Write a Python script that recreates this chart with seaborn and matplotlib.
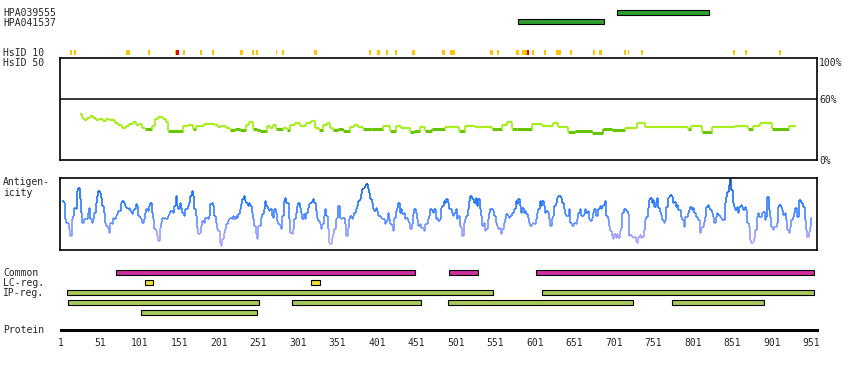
import numpy as np
import matplotlib
matplotlib.use("Agg")
import matplotlib.pyplot as plt
import seaborn as sns
from matplotlib.collections import LineCollection
from matplotlib.colors import LinearSegmentedColormap

sns.set_style("white")
plt.rcParams["font.family"] = ["DejaVu Sans Mono"]
FS = 7

PROTEIN_LEN = 959

# ------------------------------------------------------------------
# data
# ------------------------------------------------------------------
# antibody (HPA) target regions, residues
hpa_names = ["HPA039555", "HPA041537"]
hpa_start = [706, 580]
hpa_end = [822, 689]

# HsID 10 hits (start, end) in residues
hsid_yellow_start = [12, 17, 83, 111, 145, 156, 177, 192, 228, 243, 248, 273, 281, 322, 391, 402,
                     413, 424, 446, 484, 494, 545, 553, 578, 585, 598, 613, 628, 646, 675, 683,
                     715, 719, 736, 852, 868, 911]
hsid_yellow_end = [15, 20, 89, 114, 147, 158, 180, 195, 231, 246, 251, 275, 284, 325, 394, 405,
                   416, 427, 449, 487, 500, 548, 556, 581, 591, 601, 616, 634, 649, 678, 686,
                   717, 721, 739, 855, 870, 914]
hsid_red_start = [147, 591]
hsid_red_end = [151, 594]

# similarity (HsID 50) step line: breakpoints (residue) and % identity
sim_pos = [25, 28, 31, 34, 38, 42, 46, 50, 54, 58, 62, 66, 70, 74, 78, 84, 88, 92, 96, 100,
           104, 108, 116, 120, 124, 130, 134, 137, 156, 162, 169, 172, 183, 196, 200, 204, 210,
           215, 222, 228, 236, 240, 244, 250, 254, 262, 266, 270, 274, 282, 288, 292, 298, 304,
           312, 318, 323, 328, 333, 338, 342, 346, 352, 358, 367, 372, 378, 384, 395, 409, 418,
           426, 432, 443, 449, 456, 462, 471, 488, 505, 513, 526, 547, 560, 566, 572, 579, 598,
           610, 625, 631, 644, 652, 674, 688, 699, 716, 731, 741, 796, 800, 813, 826, 843, 855,
           872, 878, 887, 902, 923]
sim_val = [45, 41, 39, 41, 43, 41, 39, 40, 38, 40, 39, 39, 36, 34, 31, 33, 35, 37, 34, 35,
           31, 30, 33, 40, 42, 40, 37, 28, 33, 34, 30, 33, 35, 34, 32, 33, 31,
           29, 30, 29, 34, 37, 30, 29, 28, 33, 31, 34, 30, 31, 29, 34, 36, 33,
           36, 38, 31, 29, 34, 36, 31, 29, 30, 28, 32, 34, 32, 30, 30, 33, 28,
           33, 31, 27, 28, 32, 28, 30, 32, 28, 33, 32, 30, 34, 37, 30, 30, 35,
           33, 36, 32, 27, 28, 26, 30, 29, 31, 36, 32, 30, 33, 27, 32, 32, 33,
           30, 33, 36, 30, 33]
sim_end = 932

# antigenicity profile, sampled evenly from residue 3 to 952 (height in panel units, 0-216)
antigen_val = [
    147, 142, 92, 82, 82, 62, 42, 92, 102, 127, 122, 177, 187, 152, 112, 82, 92, 92, 92, 112,
    127, 92, 82, 92, 112, 142, 162, 177, 172, 157, 132, 112, 82, 72, 62, 52, 82, 77, 97, 92,
    102, 107, 117, 117, 142, 147, 142, 132, 127, 122, 127, 117, 107, 117, 122, 137, 132, 102, 97, 92,
    82, 92, 112, 122, 117, 132, 142, 112, 92, 62, 57, 42, 27, 67, 82, 97, 92, 97, 92, 102,
    107, 117, 117, 112, 132, 162, 132, 122, 142, 127, 112, 102, 122, 122, 132, 142, 162, 177, 162, 122,
    102, 67, 47, 52, 72, 87, 82, 97, 97, 92, 102, 137, 142, 132, 102, 82, 62, 57, 22, 12,
    32, 52, 62, 77, 87, 92, 97, 92, 102, 92, 102, 97, 107, 122, 137, 152, 162, 147, 142, 132,
    # 250-440 px
    142, 132, 112, 92, 72, 47, 32, 72, 72, 97, 107, 122, 147, 132, 122, 117, 122, 102, 97, 122,
    112, 87, 77, 72, 62, 102, 147, 157, 142, 142, 92, 52, 47, 62, 92, 112, 132, 142, 127, 112,
    92, 107, 92, 112, 127, 137, 142, 147, 152, 142, 117, 97, 87, 77, 62, 77, 102, 122, 102, 62,
    22, 17, 37, 47, 62, 92, 97, 132, 97, 92, 97, 97, 77, 42, 67, 92, 102, 92, 102, 112,
    122, 132, 147, 152, 167, 182, 187, 192, 197, 182, 172, 152, 142, 122, 117, 127, 117, 102, 102, 97,
    92, 92, 77, 87, 112, 92, 77, 72, 57, 97, 117, 127, 142, 112, 122, 107, 112, 92, 97, 87,
    82, 62, 77, 107, 122, 112, 92, 72, 77, 67, 67, 57, 77, 77, 92, 102, 122, 117, 112, 122,
    92, 97, 87,
    # 440-630 px
    92, 127, 132, 147, 142, 152, 142, 122, 122, 112, 102, 112, 122, 92, 102, 72, 67, 42, 82, 92,
    102, 122, 147, 162, 152, 152, 142, 157, 132, 152, 122, 102, 72, 82, 57, 62, 92, 112, 122, 122,
    117, 102, 82, 72, 62, 67, 47, 62, 82, 92, 107, 102, 97, 102, 112, 112, 122, 147, 137, 152,
    132, 112, 127, 112, 117, 107, 97, 82, 72, 77, 82, 77, 92, 112, 122, 147, 132, 147, 132, 112,
    117, 112, 92, 72, 97, 102, 132, 142, 157, 162, 162, 157, 142, 122, 107, 102, 102, 122, 82, 72,
    72, 82, 77, 92, 112, 122, 102, 102, 107, 122, 112, 117, 92, 87, 97, 112, 122, 102, 102, 122,
    132, 122, 132, 137, 147, 102, 92, 72, 57, 42, 32, 47, 37, 47, 37, 57, 67, 112, 122, 122,
    117, 107, 42,
    # 630-812 px
    45, 40, 35, 40, 25, 20, 40, 45, 35, 40, 60, 90, 100, 125, 150, 155, 140, 150, 130, 145,
    155, 125, 115, 105, 90, 80, 90, 130, 155, 160, 165, 160, 140, 145, 130, 135, 120, 120, 100, 90,
    70, 100, 100, 110, 120, 130, 120, 125, 110, 100, 100, 90, 50, 65, 70, 85, 100, 130, 135, 125,
    120, 110, 100, 80, 100, 110, 105, 100, 95, 90, 90, 140, 160, 175, 195, 215, 180, 140, 130, 120,
    130, 110, 130, 135, 130, 120, 130, 120, 80, 70, 30, 20, 25, 35, 60, 100, 110, 100, 100, 110,
    115, 90, 100, 160, 120, 100, 70, 60, 70, 70, 80, 130, 135, 130, 120, 105, 110, 90, 60, 50,
    70, 90, 100, 110, 125, 100, 100, 150, 140, 140, 130, 90, 60, 40, 55, 70, 95,
]
antigen_first, antigen_last = 3, 952

# feature tracks: (row, start, end)
common_start = [71, 493, 603]
common_end = [450, 530, 955]
lc_start = [108, 318]
lc_end = [117, 329]
ip_row = [2, 2, 3, 3, 3, 3, 4]
ip_start = [9, 611, 10, 294, 492, 775, 103]
ip_end = [548, 955, 252, 457, 726, 892, 249]

protein_ticks = [1, 51, 101, 151, 201, 251, 301, 351, 401, 451, 501, 551, 601, 651, 701, 751,
                 801, 851, 901, 951]

# ------------------------------------------------------------------
# figure helpers
# ------------------------------------------------------------------
W, H = 850, 370
fig = plt.figure(figsize=(W / 100, H / 100), dpi=100)


def px_axes(x0, y0, x1, y1):
    ax = fig.add_axes([x0 / W, 1 - y1 / H, (x1 - x0) / W, (y1 - y0) / H])
    ax.set_facecolor("none")
    return ax


def bare(ax):
    for s in ax.spines.values():
        s.set_visible(False)
    ax.set_xticks([])
    ax.set_yticks([])


def label(y, text):
    fig.text(3 / W, 1 - y / H, text, ha="left", va="center", fontsize=FS, linespacing=1.05)


def steps(pos, val, end):
    pos = list(pos) + [end]
    horiz, hv, vert, vv = [], [], [], []
    for i, v in enumerate(val):
        horiz.append([(pos[i], v), (pos[i + 1], v)])
        hv.append(v)
        if i + 1 < len(val):
            vert.append([(pos[i + 1], v), (pos[i + 1], val[i + 1])])
            vv.append((v, val[i + 1]))
    return horiz, hv, vert, vv


# ------------------------------------------------------------------
# HPA bars
# ------------------------------------------------------------------
ax = px_axes(61, 7.5, 817, 26.5)
ax.barh(range(len(hpa_names)), np.array(hpa_end) - np.array(hpa_start), left=hpa_start,
        height=0.52, color="#2f9e2f", edgecolor="black", linewidth=0.8)
ax.set_xlim(1, PROTEIN_LEN)
ax.set_ylim(1.5, -0.5)
bare(ax)
label(13, hpa_names[0])
label(22.5, hpa_names[1])

# ------------------------------------------------------------------
# HsID 10 strip
# ------------------------------------------------------------------
ax = px_axes(61, 49.5, 817, 55)
ax.barh(0, np.array(hsid_yellow_end) - np.array(hsid_yellow_start), left=hsid_yellow_start,
        height=1, color="#ffc400", linewidth=0)
ax.barh(0, np.array(hsid_red_end) - np.array(hsid_red_start), left=hsid_red_start,
        height=1, color="#e80000", linewidth=0)
ax.set_xlim(1, PROTEIN_LEN)
ax.set_ylim(-0.5, 0.5)
bare(ax)
label(52.5, "HsID 10")
label(62.5, "HsID 50")

# ------------------------------------------------------------------
# similarity panel
# ------------------------------------------------------------------
ax = px_axes(60, 58, 817, 160)
ax.set_xlim(0, PROTEIN_LEN)
ax.set_ylim(0, 100)
ax.axhline(60, color="black", lw=1.1)
light, dark = "#a6ee1c", "#66c400"
horiz, hv, vert, vv = steps(sim_pos, sim_val, sim_end)
segs = horiz + vert
cols = [dark if v <= 30 else light for v in hv] + [dark if max(a, b) <= 30 else light for a, b in vv]
lws = [2.2 if v <= 30 else 1.6 for v in hv] + [1.3] * len(vv)
ax.add_collection(LineCollection(segs, colors=cols, linewidths=lws, capstyle="butt"))
ax.set_xticks([])
ax.yaxis.tick_right()
ax.set_yticks([0, 60, 100])
ax.set_yticklabels(["0%", "60%", "100%"], fontsize=FS)
ax.get_yticklabels()[-1].set_va("top")
ax.tick_params(axis="y", length=0, pad=1.5)
for s in ax.spines.values():
    s.set_linewidth(1.2)
    s.set_color("black")

# ------------------------------------------------------------------
# antigenicity panel
# ------------------------------------------------------------------
ax = px_axes(60, 178, 817, 250)
ax.set_xlim(0, PROTEIN_LEN)
ax.set_ylim(0, 216)
cmap = LinearSegmentedColormap.from_list(
    "antigen", [(0.0, "#b0a6ff"), (0.2, "#9a9cff"), (0.35, "#6a8eff"), (0.5, "#3a80ff"),
                (0.65, "#1a70ff"), (0.8, "#0c66f0"), (0.9, "#0558d0"), (1.0, "#0048a8")])
apos = np.linspace(antigen_first, antigen_last, len(antigen_val))
horiz, hv, vert, vv = steps(apos, antigen_val, antigen_last + 1)
segs = horiz + vert
vals = hv + [(a + b) / 2 for a, b in vv]
ax.add_collection(LineCollection(segs, colors=cmap(np.array(vals) / 216), linewidths=1.15))
ax.set_xticks([])
ax.set_yticks([])
for s in ax.spines.values():
    s.set_linewidth(1.2)
    s.set_color("black")
label(187.5, "Antigen-\nicity")

# ------------------------------------------------------------------
# feature tracks
# ------------------------------------------------------------------
ax = px_axes(61, 267.3, 817, 317.3)
ax.barh([0] * len(common_start), np.array(common_end) - np.array(common_start), left=common_start,
        height=0.46, color="#cc2f9e", edgecolor="black", linewidth=0.8)
ax.barh([1] * len(lc_start), np.array(lc_end) - np.array(lc_start), left=lc_start,
        height=0.46, color="#eedc3a", edgecolor="black", linewidth=0.8)
ax.barh(ip_row, np.array(ip_end) - np.array(ip_start), left=ip_start,
        height=0.46, color="#a8c85c", edgecolor="black", linewidth=0.8)
ax.set_xlim(1, PROTEIN_LEN)
ax.set_ylim(4.5, -0.5)
bare(ax)
label(272.5, "Common")
label(283, "LC-reg.")
label(293, "IP-reg.")

# ------------------------------------------------------------------
# protein axis
# ------------------------------------------------------------------
ax = px_axes(61, 320, 817.5, 330)
ax.set_xlim(1, PROTEIN_LEN)
for k in ["top", "left", "right"]:
    ax.spines[k].set_visible(False)
ax.spines["bottom"].set_linewidth(2.2)
ax.spines["bottom"].set_color("black")
ax.set_yticks([])
ax.set_xticks(protein_ticks + [PROTEIN_LEN])
ax.set_xticklabels([str(t) for t in protein_ticks] + [""], fontsize=FS)
ax.tick_params(axis="x", direction="out", length=3, width=1.4, pad=2.5, color="black")
label(330, "Protein")

fig.savefig("out.png", dpi=100)
